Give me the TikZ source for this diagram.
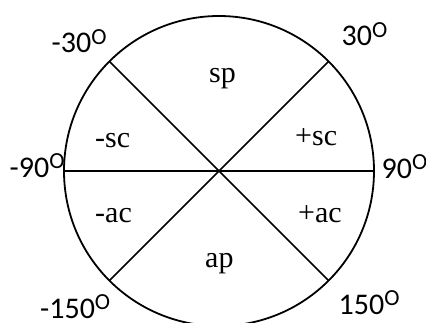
\documentclass[tikz,border=0pt]{standalone}
\usepackage{fontspec}
\setmainfont{Liberation Serif}
\newfontfamily\calfont{Carlito}
\usepackage{tikz}
\usetikzlibrary{positioning,calc}
\newcommand{\degO}{\raisebox{9pt}{\fontsize{23}{23}\selectfont O}}
\tikzset{
  ring/.style   ={draw=black, line width=1.8pt},
  spoke/.style  ={draw=black, line width=1.7pt},
  deglbl/.style ={anchor=base west, inner sep=0pt, font=\calfont\fontsize{30}{34}\selectfont},
  seclbl/.style ={anchor=base west, inner sep=0pt, font=\fontsize{30}{34}\selectfont},
}
\begin{document}
\begin{tikzpicture}[x=1pt,y=1pt]
\useasboundingbox (0,0) rectangle (426,322);
\coordinate (o) at (219,151);
\draw[ring] (o) circle (155);

\coordinate (pl) at ($(o)+(180:155)$);
\coordinate (pr) at ($(o)+(0:155)$);
\coordinate (pul) at ($(o)+(135:155)$);
\coordinate (pur) at ($(o)+(45:155)$);
\coordinate (pll) at ($(o)+(225:155)$);
\coordinate (plr) at ($(o)+(315:155)$);

\draw[spoke] (pl) -- (pr);
\draw[spoke] (pul) -- (plr);
\draw[spoke] (pur) -- (pll);

% angle labels
\node[deglbl] (m30) at (51.5,269) {-30\degO};
\node[deglbl] (p30) at (341.5,276) {30\degO};
\node[deglbl] (m90) at (9.5,145) {-90\degO};
\node[deglbl] (p90) at (381.5,144) {90\degO};
\node[deglbl] (m150) at (40,4) {-150\degO};
\node[deglbl] (p150) at (338.5,8) {150\degO};

% sector labels
\node[seclbl] (sp) at (209,239) {sp};
\node[seclbl] (msc) at (95,175) {-sc};
\node[seclbl] (psc) at (295,177) {+sc};
\node[seclbl] (mac) at (95,100) {-ac};
\node[seclbl] (pac) at (298,100) {+ac};
\node[seclbl] (ap) at (205,55) {ap};
\end{tikzpicture}
\end{document}
